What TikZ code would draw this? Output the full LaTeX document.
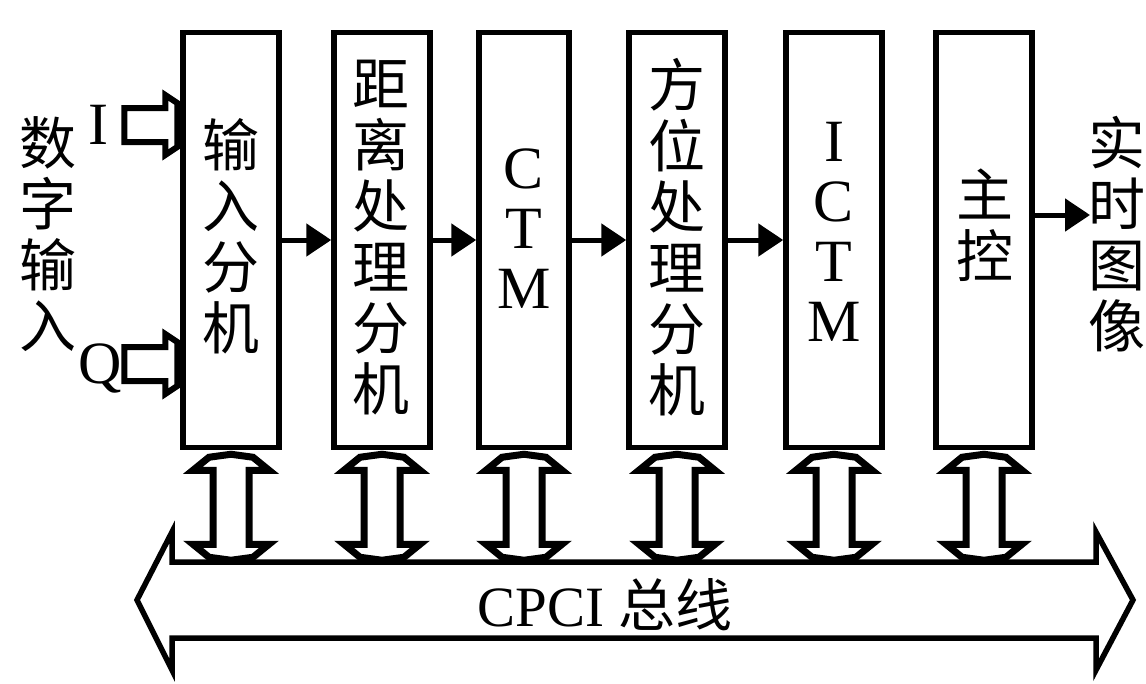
\documentclass[tikz,border=0pt]{standalone}
\usepackage{fontspec}
\setmainfont{Liberation Serif}
\newfontfamily\cjk{Noto Sans CJK SC}
\usetikzlibrary{arrows.meta}

\begin{document}
\begin{tikzpicture}[x=1pt,y=-1pt,
    unit/.style={draw, line width=5.5pt, minimum width=96pt, minimum height=415pt, inner sep=0pt},
    zh/.style={font=\cjk\fontsize{57}{61}\selectfont, align=center, inner sep=0pt},
    en/.style={font=\fontsize{60}{60}\selectfont, align=center, inner sep=0pt},
    flow/.style={line width=5pt, -{Triangle[length=25pt,width=32pt]}},
    fat/.style={line width=5pt, fill=white}]

    \useasboundingbox (0,0) rectangle (1146,683);

    \node[unit] (inbox) at (231,240) {};
    \node[unit] (rngbox) at (382,240) {};
    \node[unit, minimum width=90pt] (ctmbox) at (524,240) {};
    \node[unit] (azbox) at (677,240) {};
    \node[unit] (ictmbox) at (834,240) {};
    \node[unit] (ctlbox) at (984,240) {};

    \node[zh] (intxt) at (231,236) {输\\入\\分\\机};
    \node[zh] (rngtxt) at (381,238) {距\\离\\处\\理\\分\\机};
    \node[en] (ctmtxt) at (524,229) {C\\T\\M};
    \node[zh] (aztxt) at (677,237) {方\\位\\处\\理\\分\\机};
    \node[en] (ictmtxt) at (834,232) {I\\C\\T\\M};
    \node[zh] (ctltxt) at (985,225) {主\\控};

    \node[zh] (numtxt) at (48,234) {数\\字\\输\\入};
    \node[en] (ilab) at (98,125) {I};
    \node[en] (qlab) at (100,368) {Q};
    \node[zh] (imgtxt) at (1117,234) {实\\时\\图\\像};
    \coordinate (imgin) at (1090,215);

    \draw[fat, line width=6pt] (inbox.west |- ilab) ++(-3,-22) -- ++(-12,-8) -- ++(0,13) -- ++(-41,0) -- ++(0,34) -- ++(41,0) -- ++(0,13) -- ++(12,-8) -- cycle;
    \draw[fat, line width=6pt] (inbox.west |- qlab) ++(-3,-26) -- ++(-12,-8) -- ++(0,13) -- ++(-41,0) -- ++(0,34) -- ++(41,0) -- ++(0,13) -- ++(12,-8) -- cycle;

    \draw[flow] (inbox) -- (rngbox);
    \draw[flow] (rngbox) -- (ctmbox);
    \draw[flow] (ctmbox) -- (azbox);
    \draw[flow] (azbox) -- (ictmbox);
    \draw[flow] (ctlbox.east |- imgin) -- (imgin);

    \foreach \b in {inbox,rngbox,ctmbox,azbox,ictmbox,ctlbox}
    \draw[fat, line width=7pt] (\b.south) ++(0,4) -- ++(22,3) -- ++(16,13) -- ++(-20,0) -- ++(0,74) -- ++(20,0) -- ++(-16,13) -- ++(-22,3) -- ++(-22,-3) -- ++(-16,-13) -- ++(20,0) -- ++(0,-74) -- ++(-20,0) -- ++(16,-13) -- cycle;

    \draw[line width=5.5pt] (137,600) -- (172,532) -- (172,562) -- (1096,562) -- (1096,532) -- (1133,600) -- (1096,670) -- (1096,638) -- (172,638) -- (172,670) -- cycle;
    \node[font=\fontsize{57}{57}\selectfont, inner sep=0pt] (buslab) at (605,605) {CPCI {\cjk 总线}};
\end{tikzpicture}
\end{document}
